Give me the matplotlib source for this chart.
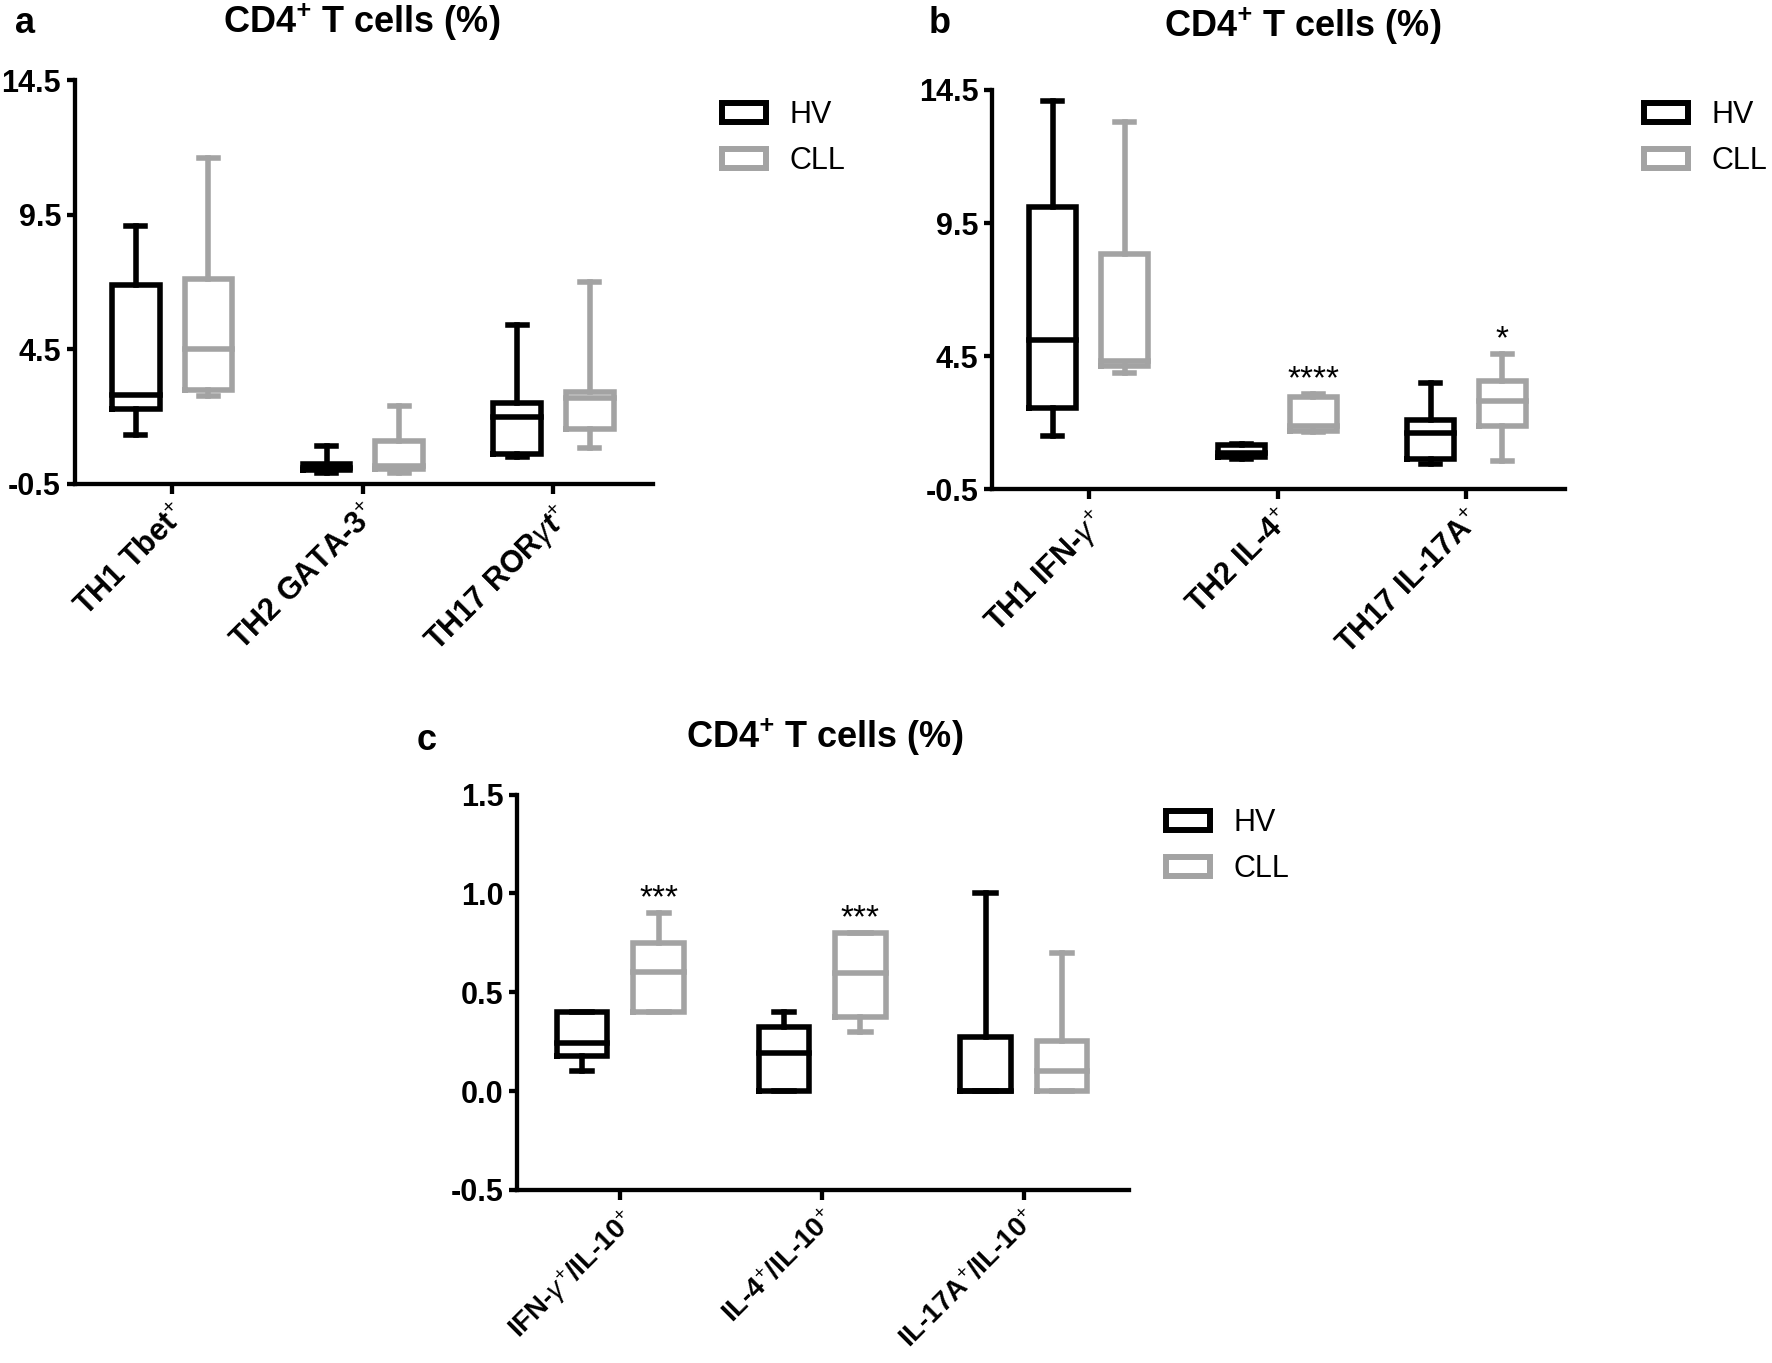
import matplotlib
matplotlib.use('Agg')
import matplotlib.pyplot as plt
from matplotlib.patches import Patch

plt.rcParams['font.family'] = ['Liberation Sans', 'DejaVu Sans']
plt.rcParams['mathtext.fontset'] = 'custom'
plt.rcParams['mathtext.rm'] = 'Liberation Sans'
plt.rcParams['mathtext.it'] = 'Liberation Sans:italic'
plt.rcParams['mathtext.bf'] = 'Liberation Sans:italic:bold'
plt.rcParams['axes.unicode_minus'] = False

BLACK = '#000000'
GRAY = '#a3a3a3'

# panel a - transcription factors
a_labels = ['TH1 Tbet$^{+}$', 'TH2 GATA-3$^{+}$', r'TH17 ROR$\gamma\mathbf{t}^{+}$']
a_hv_lo = [1.3, -0.1, 0.5]
a_hv_q1 = [2.3, 0.0, 0.6]
a_hv_med = [2.8, 0.1, 2.0]
a_hv_q3 = [6.9, 0.25, 2.5]
a_hv_hi = [9.1, 0.9, 5.4]
a_cll_lo = [2.75, -0.1, 0.85]
a_cll_q1 = [3.0, 0.05, 1.55]
a_cll_med = [4.5, 0.15, 2.7]
a_cll_q3 = [7.1, 1.1, 2.9]
a_cll_hi = [11.6, 2.4, 7.0]

# panel b - cytokines
b_labels = [r'TH1 IFN-$\gamma^{+}$', 'TH2 IL-4$^{+}$', 'TH17 IL-17A$^{+}$']
b_hv_lo = [1.5, 0.62, 0.45]
b_hv_q1 = [2.57, 0.7, 0.65]
b_hv_med = [5.1, 0.87, 1.6]
b_hv_q3 = [10.1, 1.17, 2.12]
b_hv_hi = [14.1, 1.2, 3.5]
b_cll_lo = [3.87, 1.65, 0.58]
b_cll_q1 = [4.15, 1.7, 1.87]
b_cll_med = [4.32, 1.87, 2.82]
b_cll_q3 = [8.35, 2.95, 3.58]
b_cll_hi = [13.3, 3.08, 4.6]
b_stars = ['', '****', '*']

# panel c - ratios to IL-10
c_labels = [r'IFN-$\gamma^{+}$/IL-10$^{+}$', 'IL-4$^{+}$/IL-10$^{+}$', 'IL-17A$^{+}$/IL-10$^{+}$']
c_hv_lo = [0.10, 0.0, 0.0]
c_hv_q1 = [0.175, 0.0, 0.0]
c_hv_med = [0.245, 0.195, 0.0]
c_hv_q3 = [0.40, 0.325, 0.275]
c_hv_hi = [0.40, 0.40, 1.0]
c_cll_lo = [0.40, 0.30, 0.0]
c_cll_q1 = [0.40, 0.375, 0.0]
c_cll_med = [0.605, 0.60, 0.10]
c_cll_q3 = [0.75, 0.80, 0.254]
c_cll_hi = [0.90, 0.80, 0.70]
c_stars = ['***', '***', '']

groups = ['HV', 'CLL']


# draws HV/CLL box pairs for one panel and styles the axes
def draw_panel(ax, labels, hv, cll, yticks, stars=None, label_size=22):
    n = len(labels)
    for stats, offset, color in ((hv, -0.19, BLACK), (cll, 0.19, GRAY)):
        lo, q1, med, q3, hi = stats
        bstats = [dict(whislo=lo[i], q1=q1[i], med=med[i], q3=q3[i], whishi=hi[i], fliers=[])
                  for i in range(n)]
        props = dict(color=color, linewidth=4, solid_joinstyle='miter', solid_capstyle='projecting')
        ax.bxp(bstats, positions=[i + offset for i in range(n)], widths=0.25, capwidths=0.1,
               showfliers=False, boxprops=props, whiskerprops=props, capprops=props,
               medianprops=props, manage_ticks=False)
    if stars:
        for i, s in enumerate(stars):
            if s:
                ax.annotate(s, (i + 0.19, cll[4][i]), xytext=(0, 4), textcoords='offset points',
                            ha='center', va='baseline', fontsize=24)
    ax.set_xlim(-0.51, n - 1 + 0.52)
    ax.set_ylim(yticks[0], yticks[-1])
    ax.set_yticks(yticks)
    ax.set_yticklabels([f'{t:.1f}' for t in yticks], fontsize=22, fontweight='bold')
    ax.set_xticks(range(n))
    ax.set_xticklabels(labels, rotation=45, ha='right', rotation_mode='anchor',
                       fontsize=label_size, fontweight='bold')
    for side in ('top', 'right'):
        ax.spines[side].set_visible(False)
    for side in ('left', 'bottom'):
        ax.spines[side].set_linewidth(3.1)
    ax.tick_params(axis='y', direction='out', length=6, width=3.1, pad=4)
    ax.tick_params(axis='x', direction='out', length=7, width=3.1, pad=4)


def add_legend(fig, x, y):
    handles = [Patch(facecolor='white', edgecolor=c, linewidth=4.3, joinstyle='round')
               for c in (BLACK, GRAY)]
    fig.legend(handles, groups, loc='upper left', bbox_to_anchor=(x, y),
               bbox_transform=fig.transFigure, frameon=False, fontsize=22,
               handlelength=1.45, handleheight=0.6, handletextpad=0.75,
               labelspacing=0.53, borderpad=0, borderaxespad=0)


fig = plt.figure(figsize=(17.72, 13.63), dpi=100)

ax_a = fig.add_axes([0.0423, 0.645, 0.326, 0.296])
draw_panel(ax_a, a_labels,
           (a_hv_lo, a_hv_q1, a_hv_med, a_hv_q3, a_hv_hi),
           (a_cll_lo, a_cll_q1, a_cll_med, a_cll_q3, a_cll_hi),
           [-0.5, 4.5, 9.5, 14.5])

ax_b = fig.add_axes([0.560, 0.641, 0.323, 0.293])
draw_panel(ax_b, b_labels,
           (b_hv_lo, b_hv_q1, b_hv_med, b_hv_q3, b_hv_hi),
           (b_cll_lo, b_cll_q1, b_cll_med, b_cll_q3, b_cll_hi),
           [-0.5, 4.5, 9.5, 14.5], b_stars)

ax_c = fig.add_axes([0.292, 0.127, 0.345, 0.290])
draw_panel(ax_c, c_labels,
           (c_hv_lo, c_hv_q1, c_hv_med, c_hv_q3, c_hv_hi),
           (c_cll_lo, c_cll_q1, c_cll_med, c_cll_q3, c_cll_hi),
           [-0.5, 0.0, 0.5, 1.0, 1.5], c_stars, label_size=20)

title = r'CD4$^{\mathbf{+}}$ T cells (%)'
W, H = 1772, 1363
fig.text(362 / W, 1 - 33 / H, title, ha='center', va='baseline', fontsize=26, fontweight='bold')
fig.text(1303 / W, 1 - 37 / H, title, ha='center', va='baseline', fontsize=26, fontweight='bold')
fig.text(825 / W, 1 - 748 / H, title, ha='center', va='baseline', fontsize=26, fontweight='bold')

fig.text(25 / W, 1 - 33 / H, 'a', ha='center', va='baseline', fontsize=26, fontweight='bold')
fig.text(940 / W, 1 - 33 / H, 'b', ha='center', va='baseline', fontsize=26, fontweight='bold')
fig.text(427 / W, 1 - 750 / H, 'c', ha='center', va='baseline', fontsize=26, fontweight='bold')

add_legend(fig, 722 / W, 1 - 100 / H)
add_legend(fig, 1644 / W, 1 - 100 / H)
add_legend(fig, 1166 / W, 1 - 808 / H)

fig.savefig('out.png', dpi=100)
